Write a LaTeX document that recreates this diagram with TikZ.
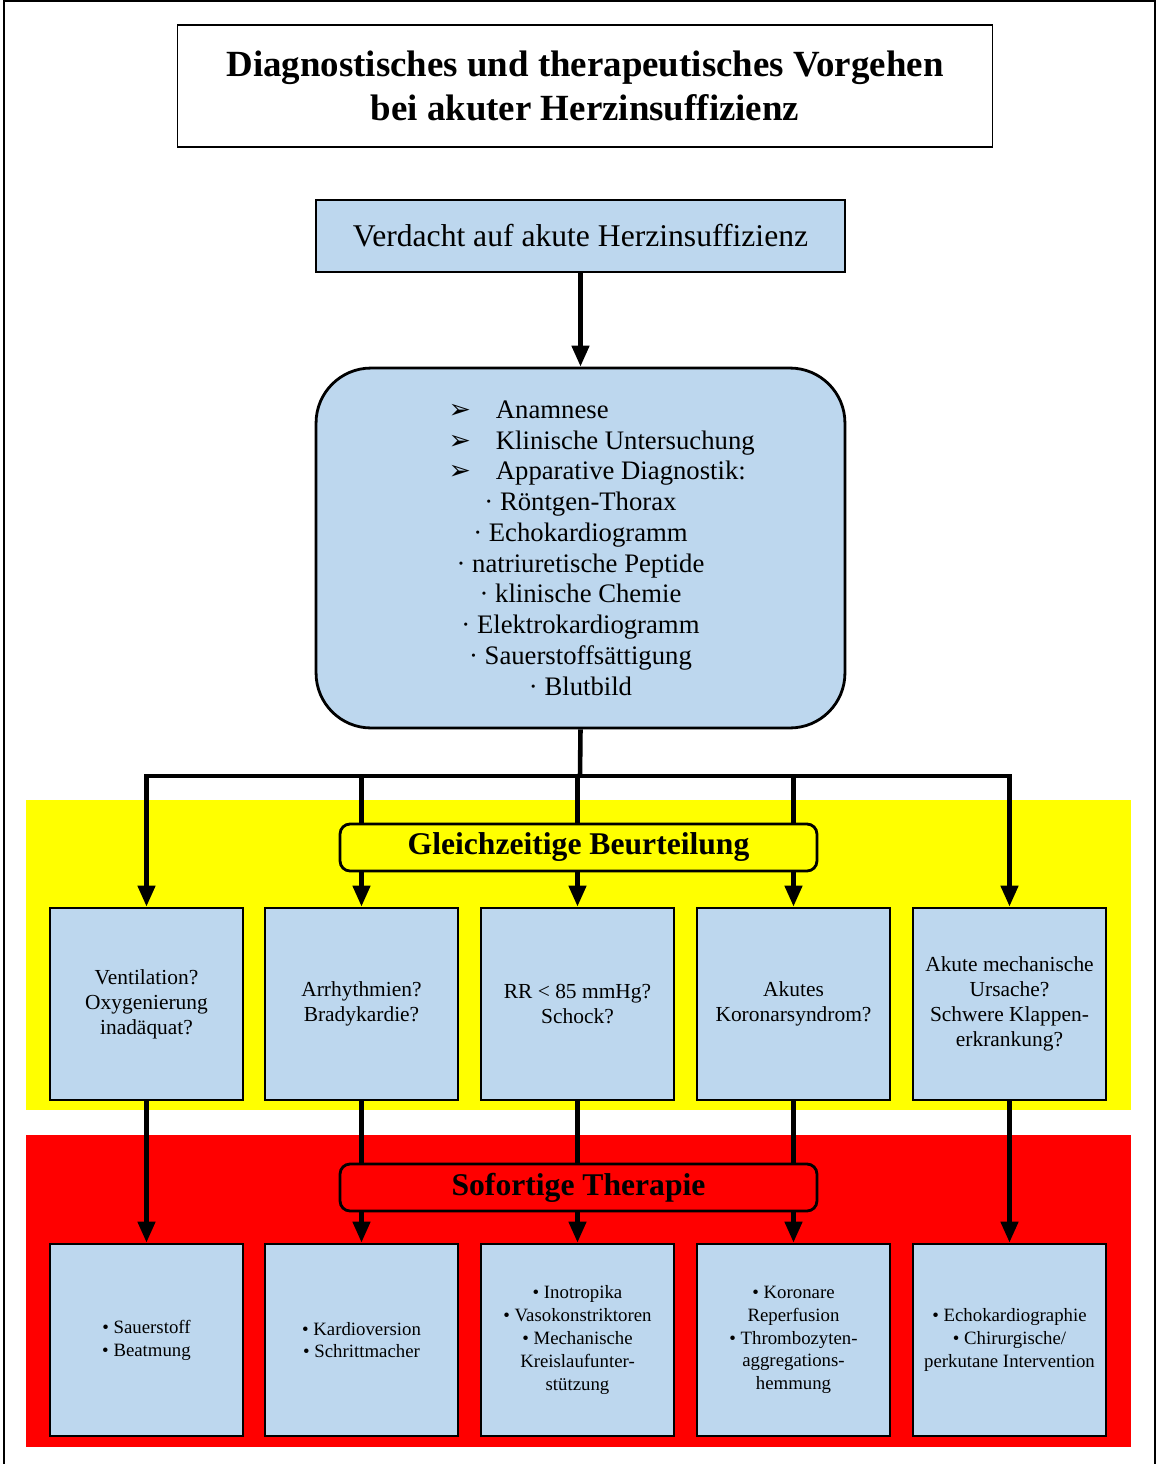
\documentclass[tikz,border=0pt]{standalone}
\usepackage{fontspec}
\setmainfont{Liberation Serif}
\newfontfamily\dingfont{DejaVu Sans}
\usetikzlibrary{arrows.meta}
\definecolor{boxblue}{RGB}{189,215,238}
\definecolor{bandyellow}{RGB}{255,255,0}
\definecolor{bandred}{RGB}{255,0,0}
\newcommand{\arrbul}{{\dingfont\char"27A2}}

\tikzset{every picture/.style={line width=0.75pt},
	bluebox/.style={draw, line width=1.6pt, fill=boxblue, align=center, inner sep=2pt},
	askbox/.style={bluebox, minimum width=3.86cm, minimum height=3.84cm, font=\fontsize{12.2}{14.2}\selectfont},
	dobox/.style={askbox, font=\fontsize{10.7}{13}\selectfont},
	headbox/.style={draw, line width=1.6pt, rounded corners=0.2cm, minimum width=9.54cm, minimum height=0.94cm, font=\bfseries\fontsize{18}{21}\selectfont},
	conn/.style={line width=2.6pt}}

\begin{document}
\begin{tikzpicture}[x=0.02cm, y=-0.02cm, >={Triangle[width=0.34cm,length=0.42cm]}]
	\useasboundingbox (0,0) rectangle (1156,1464);
	\draw[line width=1.2pt] (4,1464) -- (4,1) -- (1155,1) -- (1155,1464);
	% farbige Baender
	\fill[bandyellow] (26,800) rectangle (1131,1110);
	\fill[bandred] (26,1135) rectangle (1131,1447);
	\node[draw, line width=0.6pt, minimum width=16.32cm, minimum height=2.44cm, align=center, font=\bfseries\fontsize{21}{25}\selectfont] (title) at (585,86) {Diagnostisches und therapeutisches Vorgehen\\bei akuter Herzinsuffizienz};
	\node[bluebox, minimum width=10.58cm, minimum height=1.44cm, font=\fontsize{18}{21}\selectfont] (verd) at (580.5,236) {Verdacht auf akute Herzinsuffizienz};
	\node[bluebox, rounded corners=1.1cm, minimum width=10.58cm, minimum height=7.2cm, font=\fontsize{15.2}{17.5}\selectfont] (diag) at (580.5,548) {\makebox[5.28cm][l]{\arrbul\hspace{0.5cm}Anamnese}\\
		\makebox[5.28cm][l]{\arrbul\hspace{0.5cm}Klinische Untersuchung}\\
		\makebox[5.28cm][l]{\arrbul\hspace{0.5cm}Apparative Diagnostik:}\\
		· Röntgen-Thorax\\ · Echokardiogramm\\ · natriuretische Peptide\\ · klinische Chemie\\
		· Elektrokardiogramm\\ · Sauerstoffsättigung\\ · Blutbild};
	% Fragen und Therapie
	\foreach \n/\x/\t in {a/146.5/{Ventilation?\\Oxygenierung\\inadäquat?}, b/361.5/{Arrhythmien?\\Bradykardie?}, c/577.5/{RR < 85 mmHg?\\Schock?}, d/793.5/{Akutes\\Koronarsyndrom?}, e/1009.5/{Akute mechanische\\Ursache?\\Schwere Klappen-\\erkrankung?}}
		\node[askbox] (r1\n) at (\x,1004) {\t};
	\foreach \n/\x/\t in {a/146.5/{• Sauerstoff\\• Beatmung}, b/361.5/{• Kardioversion\\• Schrittmacher}, c/577.5/{• Inotropika\\• Vasokonstriktoren\\• Mechanische\\Kreislaufunter-\\stützung}, d/793.5/{• Koronare\\Reperfusion\\• Thrombozyten-\\aggregations-\\hemmung}, e/1009.5/{• Echokardiographie\\• Chirurgische/\\perkutane Intervention}}
		\node[dobox] (r2\n) at (\x,1340) {\t};
	\coordinate (bar) at (580,776);
	\draw[conn,->] (verd) -- (diag);
	\draw[conn] (diag.south) -- (bar);
	\draw[conn, line cap=rect] (bar -| r1a) -- (bar -| r1e);
	\foreach \n in {a,...,e}{
		\draw[conn,->] (bar -| r1\n) -- (r1\n.north);
		\draw[conn,->] (r1\n.south) -- (r2\n.north);}
	\node[headbox, fill=bandyellow] (gleich) at (578.5,847.5) {Gleichzeitige Beurteilung};
	\node[headbox, fill=bandred] (sofort) at (578.5,1187.5) {Sofortige Therapie};
\end{tikzpicture}
\end{document}
